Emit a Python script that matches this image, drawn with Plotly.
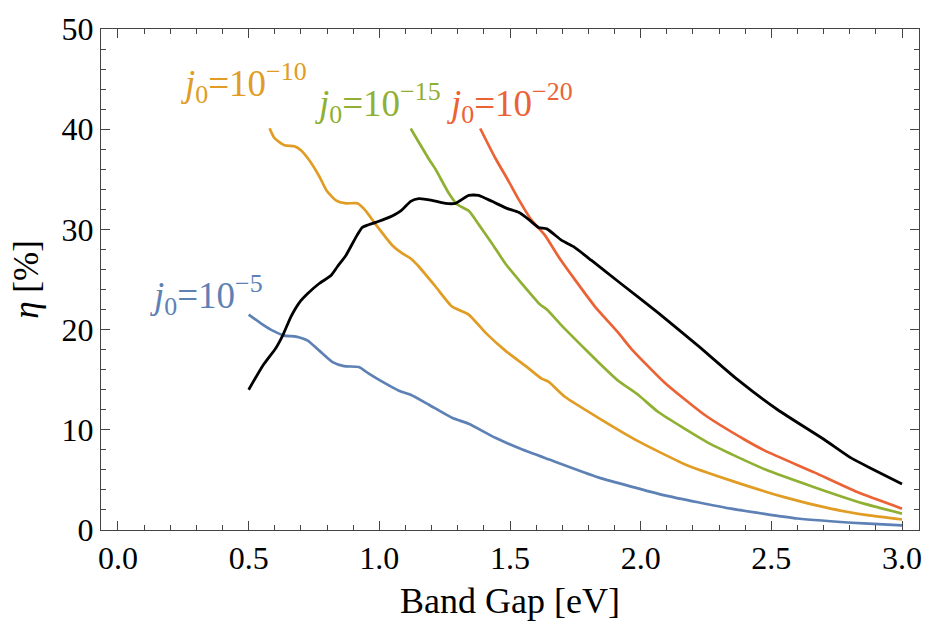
import plotly.graph_objects as go

# ---- data ----
black_x = [0.50, 0.554, 0.605, 0.63, 0.662, 0.694, 0.726, 0.77, 0.815, 0.84, 0.872, 0.91, 0.935, 0.986,
           1.037, 1.082, 1.12, 1.151, 1.202, 1.253, 1.291, 1.342, 1.38, 1.431, 1.488, 1.533, 1.571,
           1.609, 1.641, 1.698, 1.742, 1.812, 1.914, 2.066, 2.219, 2.371, 2.524, 2.702, 2.803, 2.88, 3.0]
black_y = [14.0, 16.4, 18.2, 19.4, 21.3, 22.7, 23.6, 24.6, 25.4, 26.3, 27.4, 29.2, 30.2, 30.7,
           31.2, 31.85, 32.8, 33.07, 32.9, 32.6, 32.6, 33.4, 33.4, 32.8, 32.1, 31.7, 31.0,
           30.2, 30.05, 28.9, 28.3, 26.9, 24.8, 21.7, 18.4, 15.0, 12.0, 9.03, 7.22, 6.17, 4.6]

j10_x = [0.58, 0.599, 0.637, 0.675, 0.70, 0.732, 0.77, 0.80, 0.834, 0.872, 0.916, 0.948, 0.986, 1.05,
         1.088, 1.12, 1.151, 1.215, 1.278, 1.342, 1.406, 1.482, 1.558, 1.621, 1.647, 1.71, 1.838,
         1.99, 2.168, 2.346, 2.549, 2.727, 2.867, 3.0]
j10_y = [40.1, 39.1, 38.4, 38.3, 37.9, 36.9, 35.3, 33.8, 32.9, 32.6, 32.6, 31.85, 30.5, 28.4,
         27.6, 27.1, 26.3, 24.3, 22.3, 21.5, 19.7, 17.9, 16.4, 15.1, 14.8, 13.3, 11.2,
         8.87, 6.57, 4.93, 3.28, 2.13, 1.48, 1.05]

j15_x = [1.12, 1.151, 1.19, 1.215, 1.266, 1.297, 1.342, 1.38, 1.431, 1.482, 1.545, 1.615, 1.641,
         1.698, 1.787, 1.838, 1.914, 1.99, 2.066, 2.27, 2.473, 2.664, 2.854, 3.0]
j15_y = [40.07, 38.7, 37.0, 36.0, 33.6, 32.5, 31.85, 30.5, 28.6, 26.6, 24.6, 22.5, 22.0,
         20.4, 18.06, 16.75, 14.9, 13.5, 11.8, 8.54, 6.08, 4.27, 2.63, 1.64]

j20_x = [1.386, 1.444, 1.495, 1.533, 1.583, 1.634, 1.685, 1.749, 1.825, 1.914, 1.965, 2.092,
         2.244, 2.397, 2.473, 2.664, 2.829, 3.0]
j20_y = [40.07, 37.1, 34.8, 33.0, 30.9, 29.4, 27.3, 24.96, 22.3, 19.7, 18.06, 14.7,
         11.5, 9.03, 7.95, 5.75, 3.78, 2.13]

j5_x = [0.50, 0.554, 0.592, 0.637, 0.681, 0.726, 0.77, 0.821, 0.865, 0.922, 0.96, 1.011, 1.075,
        1.12, 1.19, 1.278, 1.342, 1.444, 1.545, 1.647, 1.838, 2.092, 2.346, 2.6, 2.854, 3.0]
j5_y = [21.5, 20.5, 19.9, 19.4, 19.3, 18.9, 17.9, 16.75, 16.35, 16.26, 15.6, 14.8, 13.9,
        13.5, 12.5, 11.2, 10.6, 9.2, 8.05, 7.06, 5.25, 3.45, 2.13, 1.15, 0.66, 0.46]

x_ticks = [0.0, 0.5, 1.0, 1.5, 2.0, 2.5, 3.0]
x_tick_text = ["0.0", "0.5", "1.0", "1.5", "2.0", "2.5", "3.0"]
y_ticks = [0, 10, 20, 30, 40, 50]

labels = ["<i>j</i><sub>0</sub>=10<sup>−5</sup>", "<i>j</i><sub>0</sub>=10<sup>−10</sup>",
          "<i>j</i><sub>0</sub>=10<sup>−15</sup>", "<i>j</i><sub>0</sub>=10<sup>−20</sup>"]
label_x = [0.115, 0.235, 0.745, 1.25]
label_y = [23.5, 44.6, 42.6, 42.6]

BLUE = "#5E81B5"
ORANGE = "#E19C24"
GREEN = "#8FB032"
RED = "#EB6235"
colors = [BLUE, ORANGE, GREEN, RED]

FONT = "Times New Roman, Liberation Serif, serif"

fig = go.Figure()
for xs, ys, c in [(j5_x, j5_y, BLUE), (j10_x, j10_y, ORANGE), (j15_x, j15_y, GREEN), (j20_x, j20_y, RED)]:
    fig.add_trace(go.Scatter(x=xs, y=ys, mode="lines",
                             line=dict(color=c, width=2.7, shape="spline", smoothing=0.5),
                             showlegend=False))
fig.add_trace(go.Scatter(x=black_x, y=black_y, mode="lines",
                         line=dict(color="black", width=2.8, shape="spline", smoothing=0.5),
                         showlegend=False))

for t, lx, ly, c in zip(labels, label_x, label_y, colors):
    fig.add_annotation(x=lx, y=ly, xref="x", yref="y", text=t, showarrow=False,
                       xanchor="left", yanchor="middle",
                       font=dict(family=FONT, size=37, color=c))

axis_common = dict(showgrid=False, zeroline=False, showline=True, linecolor="#444", linewidth=1,
                   mirror="allticks", ticks="inside", ticklen=9, tickwidth=1, tickcolor="#444",
                   tickfont=dict(family=FONT, size=32, color="black"))

fig.update_xaxes(range=[-0.065, 3.065], tickvals=x_ticks, ticktext=x_tick_text,
                 minor=dict(dtick=0.1, tick0=0, ticks="inside", ticklen=5, tickcolor="#444"),
                 title=dict(text="Band Gap [eV]", font=dict(family=FONT, size=36, color="black"),
                            standoff=12),
                 **axis_common)
fig.update_yaxes(range=[0, 50], tickvals=y_ticks,
                 minor=dict(dtick=2, tick0=0, ticks="inside", ticklen=5, tickcolor="#444"),
                 title=dict(text="<i>η</i> [%]", font=dict(family=FONT, size=35, color="black"),
                            standoff=12),
                 **axis_common)

fig.update_layout(width=933, height=629, margin=dict(l=101, r=11, t=23, b=99),
                  plot_bgcolor="white", paper_bgcolor="white")

fig.write_html("out.html")
